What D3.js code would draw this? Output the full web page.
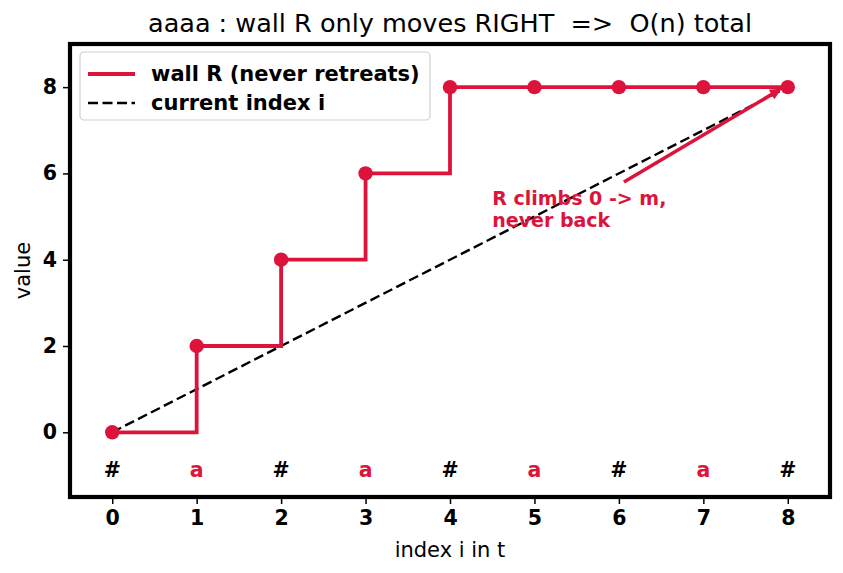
<!DOCTYPE html>
<html>
<head>
<meta charset="utf-8">
<script src="https://cdn.jsdelivr.net/npm/d3@7"></script>
<style>
  body { margin: 0; background: #fff; }
  text { font-family: "DejaVu Sans", sans-serif; }
</style>
</head>
<body>
<div id="chart"></div>
<script>
// wall R positions at each index i
let idx = [0, 1, 2, 3, 4, 5, 6, 7, 8];
let wallR = [0, 2, 4, 6, 8, 8, 8, 8, 8];
let chars = ["#", "a", "#", "a", "#", "a", "#", "a", "#"];
let yTicks = [0, 2, 4, 6, 8];
let crimson = "#dc143c";

let width = 843, height = 573;
let margin = {left: 70, right: 13, top: 44, bottom: 76};

let svg = d3.select("#chart").append("svg")
    .attr("width", width)
    .attr("height", height);

let x = d3.scaleLinear()
    .domain([-0.5, 8.5])
    .range([margin.left, width - margin.right]);

let y = d3.scaleLinear()
    .domain([-1.5, 9])
    .range([height - margin.bottom, margin.top]);

// axes
let xAxis = d3.axisBottom(x).tickValues(idx).tickSize(7).tickPadding(6);
let yAxis = d3.axisLeft(y).tickValues(yTicks).tickSize(7).tickPadding(6);

let gx = svg.append("g")
    .attr("transform", `translate(0,${height - margin.bottom})`)
    .call(xAxis);
let gy = svg.append("g")
    .attr("transform", `translate(${margin.left},0)`)
    .call(yAxis);

[gx, gy].forEach(g => {
    g.select(".domain").remove();
    g.selectAll(".tick line").attr("stroke", "#000").attr("stroke-width", 1.5);
    g.selectAll(".tick text")
        .attr("fill", "#000")
        .style("font-family", "DejaVu Sans")
        .style("font-size", "20.5px")
        .style("font-weight", "bold");
});

// dashed diagonal: current index i
svg.append("line")
    .attr("x1", x(0)).attr("y1", y(0))
    .attr("x2", x(8)).attr("y2", y(8))
    .attr("stroke", "#000")
    .attr("stroke-width", 2.4)
    .attr("stroke-dasharray", "10,4.5");

// step line for wall R
let step = d3.line()
    .x(d => x(d[0]))
    .y(d => y(d[1]))
    .curve(d3.curveStepAfter);

svg.append("path")
    .datum(idx.map((v, i) => [v, wallR[i]]))
    .attr("d", step)
    .attr("fill", "none")
    .attr("stroke", crimson)
    .attr("stroke-width", 3.8);

svg.selectAll("circle.pt")
    .data(idx)
    .enter()
    .append("circle")
    .attr("class", "pt")
    .attr("cx", d => x(d))
    .attr("cy", (d, i) => y(wallR[i]))
    .attr("r", 7.2)
    .attr("fill", crimson);

// string characters along the bottom
svg.selectAll("text.ch")
    .data(chars)
    .enter()
    .append("text")
    .attr("class", "ch")
    .attr("x", (d, i) => x(idx[i]))
    .attr("y", y(-0.88))
    .attr("text-anchor", "middle")
    .attr("dominant-baseline", "central")
    .style("font-size", "20.5px")
    .style("font-weight", "bold")
    .attr("fill", d => d == "a" ? crimson : "#000")
    .text(d => d);

// annotation arrow
let ax0 = x(6.06), ay0 = y(5.8), ax1 = x(7.93), ay1 = y(7.97);
let ang = Math.atan2(ay1 - ay0, ax1 - ax0);
let hl = 12, hw = 5.5;
svg.append("line")
    .attr("x1", ax0).attr("y1", ay0)
    .attr("x2", ax1 - Math.cos(ang) * hl * 0.6).attr("y2", ay1 - Math.sin(ang) * hl * 0.6)
    .attr("stroke", crimson)
    .attr("stroke-width", 3.6);
svg.append("path")
    .attr("d", `M${ax1},${ay1}
        L${ax1 - Math.cos(ang) * hl - Math.sin(ang) * hw},${ay1 - Math.sin(ang) * hl + Math.cos(ang) * hw}
        L${ax1 - Math.cos(ang) * hl + Math.sin(ang) * hw},${ay1 - Math.sin(ang) * hl - Math.cos(ang) * hw}Z`)
    .attr("fill", crimson);

let note = svg.append("text")
    .attr("y", 205)
    .attr("fill", crimson)
    .style("font-size", "19px")
    .style("font-weight", "bold");
note.append("tspan").attr("x", x(4.5)).text("R climbs 0 -> m,");
note.append("tspan").attr("x", x(4.5)).attr("dy", 22).text("never back");

// frame
svg.append("rect")
    .attr("x", margin.left)
    .attr("y", margin.top)
    .attr("width", width - margin.left - margin.right)
    .attr("height", height - margin.top - margin.bottom)
    .attr("fill", "none")
    .attr("stroke", "#000")
    .attr("stroke-width", 4.2);

// legend
let lg = svg.append("g").attr("transform", `translate(${margin.left + 10},${margin.top + 8})`);
lg.append("rect")
    .attr("width", 350).attr("height", 68)
    .attr("rx", 4)
    .attr("fill", "#fff").attr("fill-opacity", 0.8)
    .attr("stroke", "#d0d0d0")
    .attr("stroke-width", 1.2);
lg.append("line")
    .attr("x1", 8).attr("x2", 55).attr("y1", 22).attr("y2", 22)
    .attr("stroke", crimson).attr("stroke-width", 3.8);
lg.append("line")
    .attr("x1", 8).attr("x2", 55).attr("y1", 51).attr("y2", 51)
    .attr("stroke", "#000").attr("stroke-width", 2.4).attr("stroke-dasharray", "10,4.5");
lg.append("text").attr("x", 71).attr("y", 22).attr("dominant-baseline", "central")
    .style("font-size", "21px").style("font-weight", "bold").text("wall R (never retreats)");
lg.append("text").attr("x", 71).attr("y", 51).attr("dominant-baseline", "central")
    .style("font-size", "21px").style("font-weight", "bold").text("current index i");

// title and axis labels
svg.append("text")
    .attr("x", (margin.left + width - margin.right) / 2)
    .attr("y", 32)
    .attr("text-anchor", "middle")
    .attr("xml:space", "preserve")
    .style("white-space", "pre")
    .style("font-size", "25.5px")
    .text("aaaa : wall R only moves RIGHT  =>  O(n) total");

svg.append("text")
    .attr("x", (margin.left + width - margin.right) / 2)
    .attr("y", 557)
    .attr("text-anchor", "middle")
    .style("font-size", "21px")
    .text("index i in t");

svg.append("text")
    .attr("transform", `translate(30,${(margin.top + height - margin.bottom) / 2}) rotate(-90)`)
    .attr("text-anchor", "middle")
    .style("font-size", "21px")
    .text("value");
</script>
</body>
</html>
